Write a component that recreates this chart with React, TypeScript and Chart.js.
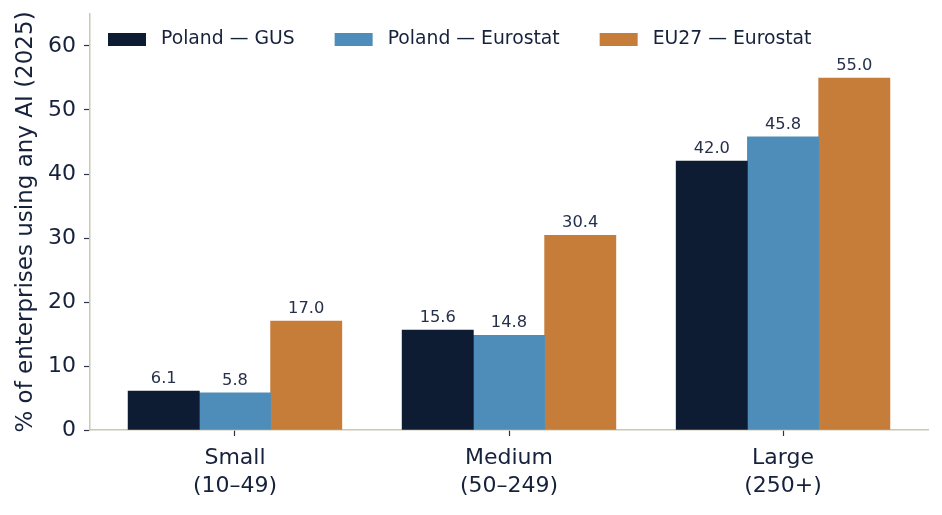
import React, { useEffect, useRef } from "react";
import { Chart, registerables } from "chart.js";

Chart.register(...registerables);

const categories: string[][] = [["Small", "(10–49)"], ["Medium", "(50–249)"], ["Large", "(250+)"]];
const seriesNames = ["Poland — GUS", "Poland — Eurostat", "EU27 — Eurostat"];
const polandGus = [6.1, 15.6, 42.0];
const polandEurostat = [5.8, 14.8, 45.8];
const eu27Eurostat = [17.0, 30.4, 55.0];
const seriesColors = ["#0e1c33", "#4e8dba", "#c67d3a"];
const yTicks = [0, 10, 20, 30, 40, 50, 60];
const yTitle = "% of enterprises using any AI (2025)";

const BAR_W = 0.26;
const TEXT = "#16213b";
const AXIS = "#cdc7b1";
const FONT = "'DejaVu Sans', sans-serif";

const legendPlugin = {
  id: "insideLegend",
  afterDraw(chart: any) {
    const ctx = chart.ctx;
    const area = chart.chartArea;
    ctx.save();
    ctx.font = `18.8px ${FONT}`;
    ctx.textBaseline = "middle";
    ctx.textAlign = "left";
    let x = area.left + 18;
    const yc = 39.5;
    chart.data.datasets.forEach((ds: any) => {
      ctx.fillStyle = ds.backgroundColor;
      ctx.fillRect(x, yc - 6.5, 38, 13);
      ctx.fillStyle = TEXT;
      const tx = x + 38 + 15;
      ctx.fillText(ds.label, tx, yc);
      x = tx + ctx.measureText(ds.label).width + 40;
    });
    ctx.restore();
  },
};

const valueLabelPlugin = {
  id: "valueLabels",
  afterDatasetsDraw(chart: any) {
    const ctx = chart.ctx;
    ctx.save();
    ctx.font = `16.3px ${FONT}`;
    ctx.fillStyle = "#27304a";
    ctx.textAlign = "center";
    ctx.textBaseline = "alphabetic";
    chart.data.datasets.forEach((ds: any, i: number) => {
      const meta = chart.getDatasetMeta(i);
      meta.data.forEach((el: any, j: number) => {
        const v = ds.data[j].y;
        ctx.fillText(v.toFixed(1), el.x, el.y - 8);
      });
    });
    ctx.restore();
  },
};

export default function App() {
  const ref = useRef<HTMLCanvasElement | null>(null);
  useEffect(() => {
    if (!ref.current) return;
    const all = [polandGus, polandEurostat, eu27Eurostat];
    const chart = new Chart(ref.current, {
      type: "bar",
      data: {
        datasets: all.map((vals, j) => ({
          label: seriesNames[j],
          data: vals.map((v, i) => ({ x: i + (j - 1) * BAR_W, y: v })),
          backgroundColor: seriesColors[j],
          borderWidth: 0,
          grouped: false,
          barPercentage: 1,
          categoryPercentage: 1,
        })),
      },
      options: {
        responsive: false,
        animation: false,
        layout: { padding: { top: 14, right: 14, left: 0, bottom: 0 } },
        plugins: { legend: { display: false }, tooltip: { enabled: false } },
        scales: {
          x: {
            type: "linear",
            offset: false,
            min: -0.529,
            max: 2.529,
            afterBuildTicks: (scale: any) => {
              scale.ticks = categories.map((_, i) => ({ value: i }));
            },
            afterFit: (scale: any) => {
              scale.height = 85;
              scale.paddingLeft = 0;
              scale.paddingRight = 0;
            },
            ticks: {
              callback: (value: any) => categories[Math.round(Number(value))] || "",
              font: { family: FONT, size: 22, lineHeight: 1.27 },
              color: TEXT,
              padding: 8,
              maxRotation: 0,
              autoSkip: false,
            },
            grid: {
              display: true,
              offset: false,
              drawOnChartArea: false,
              drawTicks: true,
              tickLength: 6,
              tickColor: "#2a3348",
              tickWidth: 1.2,
            },
            border: { display: true, color: AXIS, width: 1.5 },
          },
          y: {
            min: 0,
            max: 65,
            afterBuildTicks: (scale: any) => {
              scale.ticks = yTicks.map((v) => ({ value: v }));
            },
            afterFit: (scale: any) => {
              scale.width = 90;
              scale.paddingTop = 0;
              scale.paddingBottom = 0;
            },
            ticks: {
              font: { family: FONT, size: 22 },
              color: TEXT,
              padding: 8,
            },
            grid: {
              display: true,
              drawOnChartArea: false,
              drawTicks: true,
              tickLength: 6,
              tickColor: "#2a3348",
              tickWidth: 1.2,
            },
            border: { display: true, color: AXIS, width: 1.5 },
            title: {
              display: true,
              text: yTitle,
              font: { family: FONT, size: 23 },
              color: TEXT,
              padding: { top: 12, bottom: 0 },
            },
          },
        },
      },
      plugins: [legendPlugin, valueLabelPlugin],
    } as any);
    return () => chart.destroy();
  }, []);
  return (
    <div style={{ position: "fixed", left: 0, top: 0, width: 942, height: 515, background: "#fff" }}>
      <canvas ref={ref} width={942} height={515} />
    </div>
  );
}
